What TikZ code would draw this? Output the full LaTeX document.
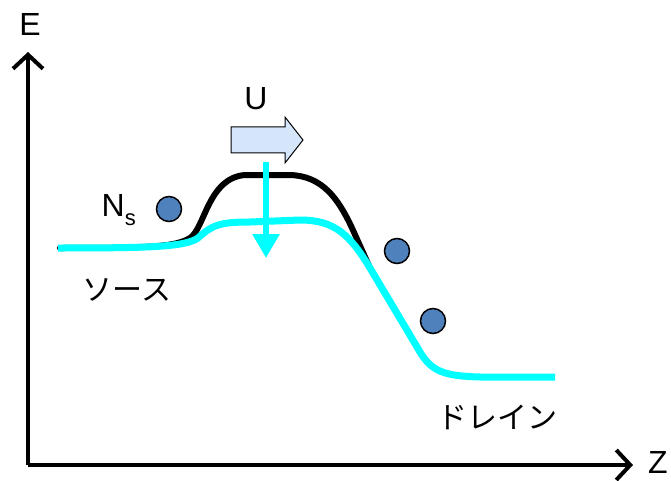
\documentclass[tikz,border=0pt]{standalone}
\usepackage{fontspec}
\setmainfont{Liberation Sans}
\newfontfamily\jpfont{Noto Sans CJK JP}
\usetikzlibrary{arrows.meta}
\definecolor{barcyan}{RGB}{0,255,255}
\definecolor{dotblue}{RGB}{79,129,189}
\definecolor{flowblue}{RGB}{214,230,250}
\tikzset{
  axis/.style={line width=4pt,-{Straight Barb[length=14pt,width=30pt,line width=4pt]}},
  lbl/.style={font=\fontsize{32}{36}\selectfont,inner sep=0pt},
  jlbl/.style={font=\jpfont\fontsize{30}{34}\selectfont,inner sep=0pt},
  carrier/.style={circle,draw=black,line width=1.5pt,fill=dotblue,minimum size=25pt,inner sep=0pt}
}
\begin{document}
\begin{tikzpicture}[x=1pt,y=-1pt]
\useasboundingbox (0,0) rectangle (671,481);
% axes
\coordinate (origin) at (28,465);
\coordinate (etop) at (28,52);
\coordinate (zend) at (633,465);
\draw[axis] (origin) -- (etop);
\draw[axis] (origin) -- (zend);
\node[lbl] (elbl) at (30,24) {E};
\node[lbl] (zlbl) at (658,462) {Z};
% conduction band, no bias
\draw[line width=6pt,line cap=round] (60,248)
  .. controls (150,248) and (175,247) .. (190,238)
  .. controls (205,228) and (208,178) .. (245,175)
  -- (290,175)
  .. controls (322,176) and (338,198) .. (352,228)
  -- (370,268);
% conduction band, biased
\draw[barcyan,line width=7pt] (58,248)
  .. controls (150,248) and (185,247) .. (198,238)
  .. controls (212,225) and (220,222) .. (250,222)
  -- (300,220)
  .. controls (335,220) and (350,235) .. (370,268)
  -- (420,352)
  .. controls (432,372) and (445,376) .. (480,377)
  -- (555,377);
% barrier lowering
\coordinate (dtop) at (266,162);
\coordinate (dbot) at (266,258);
\draw[barcyan,line width=6pt,-{Triangle[length=24pt,width=26pt]}] (dtop) -- (dbot);
% current flow
\draw[line width=1pt,fill=flowblue] (231,127) -- (285,127) -- (285,117)
  -- (303,140) -- (285,163) -- (285,153) -- (231,153) -- cycle;
\node[lbl] (ulbl) at (256,99) {U};
% electrons
\node[carrier] (e1) at (169,209) {};
\node[carrier] (e2) at (397,251) {};
\node[carrier] (e3) at (433,321) {};
\node[lbl,anchor=east] (nslbl) at (136,210) {N\raisebox{-9pt}{\fontsize{22}{24}\selectfont s}};
\node[jlbl] (src) at (127,290) {ソース};
\node[jlbl] (drn) at (497,417) {ドレイン};
\end{tikzpicture}
\end{document}
